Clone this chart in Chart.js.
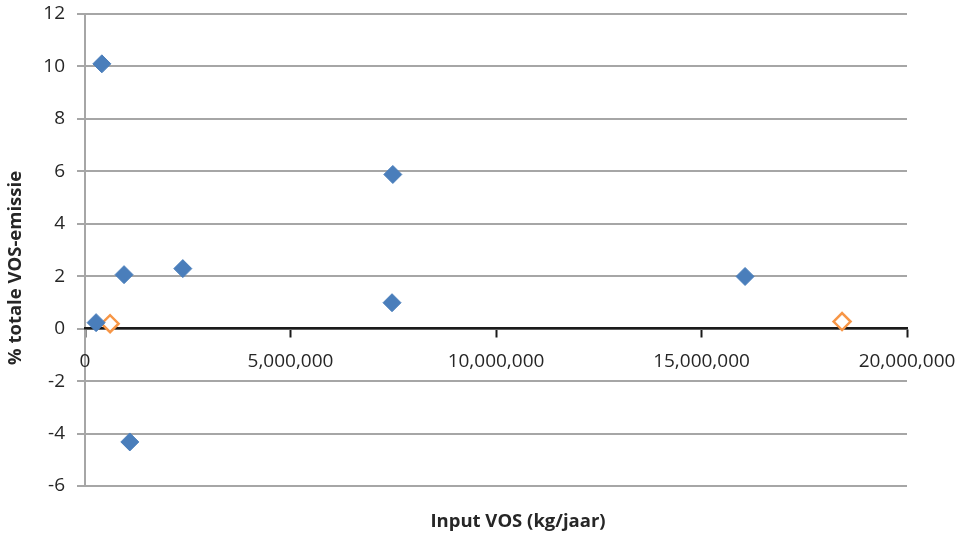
<!DOCTYPE html>
<html>
<head>
<meta charset="utf-8">
<script src="https://cdn.jsdelivr.net/npm/chart.js@4/dist/chart.umd.min.js"></script>
<style>
  html, body { margin: 0; padding: 0; background: #ffffff; }
  #wrap { width: 955px; height: 536px; position: relative; }
</style>
</head>
<body>
<div id="wrap"><canvas id="c" width="955" height="536"></canvas></div>
<script>
// Input VOS (kg/jaar) and % totale VOS-emissie per installatie
const seriesAX = [410000, 270000, 950000, 1090000, 2380000, 7490000, 7470000, 16060000];
const seriesAY = [10.1, 0.23, 2.06, -4.32, 2.29, 5.88, 0.99, 1.99];
const seriesBX = [610000, 18420000];
const seriesBY = [0.19, 0.27];

const yTickValues = [12, 10, 8, 6, 4, 2, 0, -2, -4, -6];
const xTickValues = [0, 5000000, 10000000, 15000000, 20000000];

const xTitle = 'Input VOS (kg/jaar)';
const yTitle = '% totale VOS-emissie';

const FONT = '"Open Sans", "Noto Sans", sans-serif';
const TEXT = '#262626';
const GRID = '#a6a6a6';

const toPoints = (xs, ys) => xs.map((x, i) => ({ x: x, y: ys[i] }));

// Axis titles placed in the outer margins
const axisTitles = {
  id: 'axisTitles',
  afterDraw(chart) {
    const ctx = chart.ctx;
    ctx.save();
    ctx.fillStyle = TEXT;
    ctx.font = 'bold 18.5px ' + FONT;
    ctx.textAlign = 'center';
    ctx.textBaseline = 'middle';
    ctx.fillText(xTitle, 518, 522);
    ctx.translate(16, 268);
    ctx.rotate(-Math.PI / 2);
    ctx.fillText(yTitle, 0, 0);
    ctx.restore();
  }
};

new Chart(document.getElementById('c'), {
  type: 'scatter',
  data: {
    datasets: [
      {
        data: toPoints(seriesAX, seriesAY),
        pointStyle: 'rectRot',
        pointRadius: 9,
        pointHoverRadius: 9,
        backgroundColor: '#4a7ebb',
        borderColor: '#4a7ebb',
        borderWidth: 1
      },
      {
        data: toPoints(seriesBX, seriesBY),
        pointStyle: 'rectRot',
        pointRadius: 8.5,
        pointHoverRadius: 8.5,
        backgroundColor: '#ffffff',
        borderColor: '#f79646',
        borderWidth: 2.5
      }
    ]
  },
  options: {
    responsive: false,
    animation: false,
    layout: { padding: { top: 14, right: 48, bottom: 50, left: 0 } },
    plugins: {
      legend: { display: false },
      tooltip: { enabled: false },
      title: { display: false }
    },
    scales: {
      x: {
        type: 'linear',
        position: { y: 0 },
        min: 0,
        max: 20000000,
        afterBuildTicks(scale) { scale.ticks = xTickValues.map(v => ({ value: v })); },
        afterFit(scale) { scale.paddingLeft = 0; scale.paddingRight = 0; },
        ticks: {
          color: TEXT,
          font: { family: FONT, size: 19 },
          padding: 14,
          maxRotation: 0,
          callback: v => Number(v).toLocaleString('en-US')
        },
        grid: {
          drawOnChartArea: false,
          drawTicks: true,
          tickLength: 8,
          tickWidth: 2,
          tickColor: '#1a1a1a'
        },
        border: { display: true, color: '#1a1a1a', width: 2.5 }
      },
      y: {
        type: 'linear',
        position: 'left',
        min: -6,
        max: 12,
        afterBuildTicks(scale) { scale.ticks = yTickValues.map(v => ({ value: v })); },
        afterFit(scale) { scale.width = 85; scale.paddingTop = 0; scale.paddingBottom = 0; },
        ticks: {
          color: TEXT,
          font: { family: FONT, size: 19 },
          padding: 12
        },
        grid: {
          color: GRID,
          lineWidth: 2,
          tickLength: 8,
          z: -1
        },
        border: { display: true, color: GRID, width: 2, z: -1 }
      }
    }
  },
  plugins: [axisTitles]
});
</script>
</body>
</html>
